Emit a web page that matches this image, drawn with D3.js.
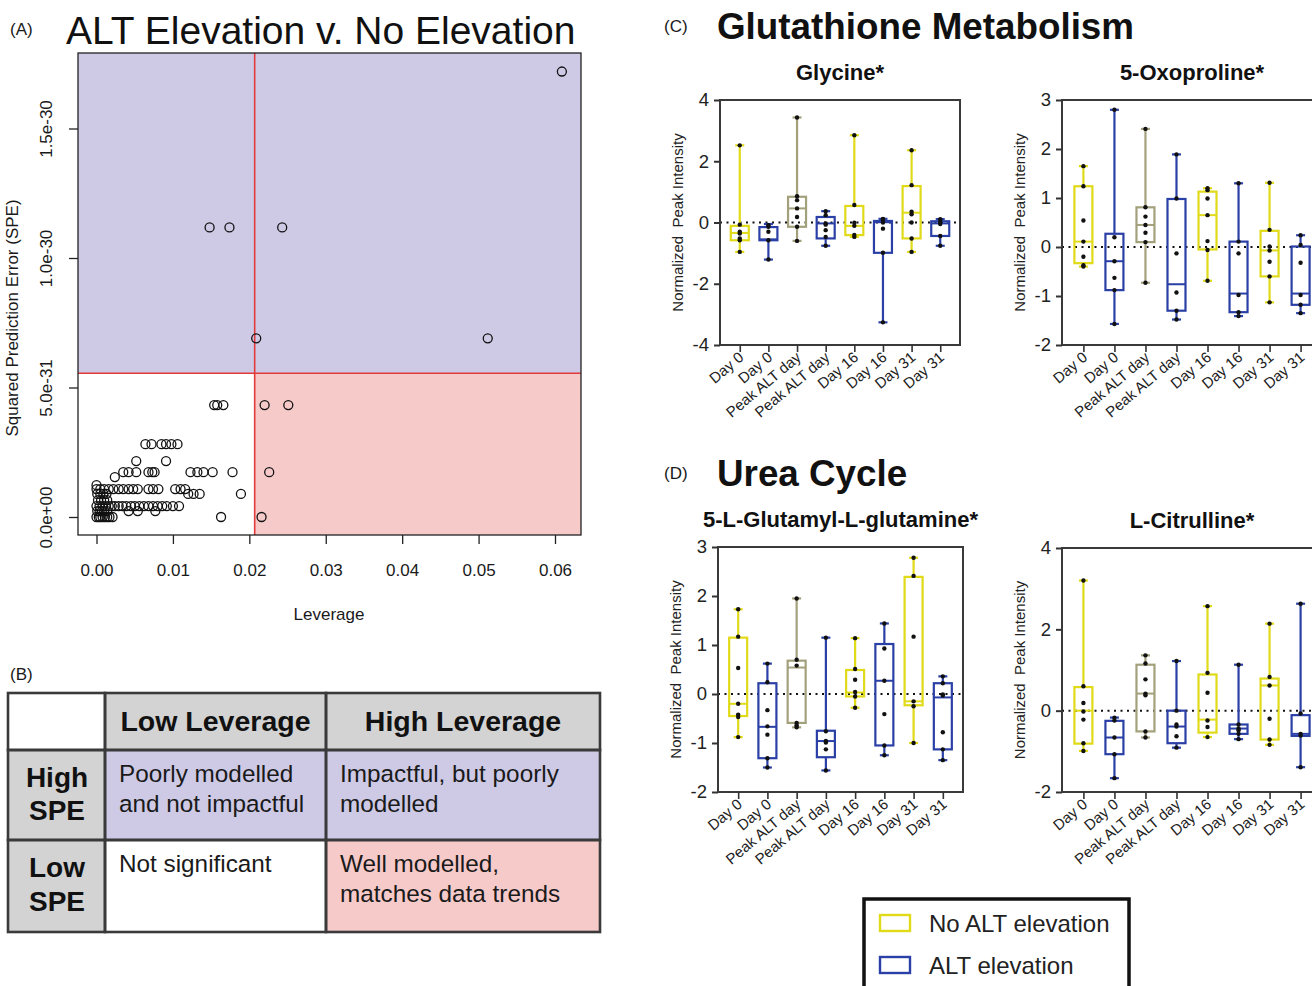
<!DOCTYPE html>
<html><head><meta charset="utf-8">
<script src="https://cdn.jsdelivr.net/npm/d3@7"></script>
<style>
html,body{margin:0;padding:0;background:#fff;}
svg{display:block;font-family:"Liberation Sans",Arial,Helvetica,sans-serif;}
</style></head><body>
<svg id="chart" width="1312" height="986"></svg>
<script>
// ---------------- Panel A data ----------------
const leverage = [
  0,.0003,.0005,.0008,.0011,.0014,.0017,.0021,.0163,.0216,
  .0001,.0004,.0007,.001,.0014,.0042,.0054,.0077,
  0,.0004,.0008,.0012,.0016,.0020,.0024,.0029,.0034,.0039,.0045,.0050,.0056,.0062,.0068,.0074,.0080,.0086,.0092,.0100,.0108,
  .0002,.0006,.0010,.0014,
  .0001,.0005,.0009,.0013,.0120,.0127,.0135,.0189,
  0,.0005,.0010,.0016,.0022,.0029,.0035,.0042,.0048,.0054,.0068,.0074,.0081,.0103,.0110,.0116,
  0,
  .0024,
  .0035,.0042,.0052,.0068,.0073,.0076,.0123,.0132,.0140,.0152,.0178,.0226,
  .0052,.0091,
  .0064,.0072,.0085,.0091,.0098,.0106,
  .0154,.0158,.0166,.0220,.0251,
  .0209,.0512,
  .0148,.0174,.0243,
  .0609
];
// squared prediction error, in units of 1e-31
const spe = [
  0,0,0,0,0,0,0,0,0,0,
  .23,.23,.23,.23,.23,.23,.23,.23,
  .42,.42,.42,.42,.42,.42,.42,.42,.42,.42,.42,.42,.42,.42,.42,.42,.42,.42,.42,.42,.42,
  .65,.65,.65,.65,
  .89,.89,.89,.89,.89,.89,.89,.89,
  1.08,1.08,1.08,1.08,1.08,1.08,1.08,1.08,1.08,1.08,1.08,1.08,1.08,1.08,1.08,1.08,
  1.23,
  1.54,
  1.73,1.73,1.73,1.73,1.73,1.73,1.73,1.73,1.73,1.73,1.73,1.73,
  2.16,2.16,
  2.81,2.81,2.81,2.81,2.81,2.81,
  4.32,4.32,4.32,4.32,4.32,
  6.9,6.9,
  11.18,11.18,11.18,
  17.2
];
const levTicks = [0,0.01,0.02,0.03,0.04,0.05,0.06];
const speTicks = [0,5,10,15];
const speTickLabels = ["0.0e+00","5.0e-31","1.0e-30","1.5e-30"];
const levCut = 0.0207;
const speCut = 5.55;

// ---------------- Panel B data ----------------
const tableColHeaders = ["", "Low Leverage", "High Leverage"];
const tableRowHeaders = [["High","SPE"],["Low","SPE"]];
const tableCells = [
  [["Poorly modelled","and not impactful"],["Impactful, but poorly","modelled"]],
  [["Not significant"],["Well modelled,","matches data trends"]]
];

// ---------------- Box plot data ----------------
const groupLabels = ["Day 0","Day 0","Peak ALT day","Peak ALT day","Day 16","Day 16","Day 31","Day 31"];
const groupKind = ["no","alt","peakno","alt","no","alt","no","alt"];

const glycineMin = [-0.96,-1.21,-0.60,-0.76,-0.47,-3.26,-0.96,-0.76];
const glycineQ1  = [-0.58,-0.58,-0.14,-0.52,-0.41,-0.99,-0.52,-0.44];
const glycineMed = [-0.34,-0.55, 0.46,-0.03,-0.11, 0.01, 0.32,-0.03];
const glycineQ3  = [-0.11,-0.15, 0.84, 0.18, 0.54, 0.05, 1.19, 0.04];
const glycineMax = [ 2.52,-0.05, 3.43, 0.37, 2.85, 0.12, 2.36, 0.11];
const glycinePts = [
  [2.52,-0.07,-0.3,-0.36,-0.52,-0.58,-0.96],
  [-0.09,-0.14,-0.3,-0.58,-1.21],
  [3.43,0.86,0.73,0.46,0.18,-0.14,-0.6],
  [0.37,0.24,-0.03,-0.07,-0.25,-0.47,-0.76],
  [2.85,0.57,-0.01,-0.11,-0.41,-0.47],
  [0.12,0.1,0.08,0,-0.2,-0.99,-3.26],
  [2.36,1.22,0.35,0.27,0,-0.52,-0.96],
  [0.11,0.08,0,-0.05,-0.44,-0.76]
];

const oxoMin = [-0.40,-1.57,-0.73,-1.48,-0.69,-1.41,-1.13,-1.35];
const oxoQ1  = [-0.33,-0.88, 0.10,-1.30,-0.05,-1.33,-0.60,-1.18];
const oxoMed = [ 0.11,-0.29, 0.45,-0.76, 0.65,-0.95,-0.07,-0.95];
const oxoQ3  = [ 1.24, 0.27, 0.81, 0.98, 1.13, 0.11, 0.33, 0.01];
const oxoMax = [ 1.65, 2.80, 2.41, 1.89, 1.20, 1.30, 1.31, 0.24];
const oxoPts = [
  [1.65,1.24,0.54,0.11,-0.2,-0.37,-0.4],
  [2.8,0.2,-0.29,-0.63,-0.88,-1.57],
  [2.41,0.81,0.62,0.45,0.29,0.1,-0.73],
  [1.89,0.99,-0.13,-0.93,-1.3,-1.48],
  [1.2,1.16,0.99,0.65,0.12,-0.06,-0.69],
  [1.3,0.11,-0.13,-0.98,-1.33,-1.41],
  [1.31,0.35,0.01,-0.07,-0.3,-0.6,-1.13],
  [0.24,0.04,-0.32,-0.98,-1.18,-1.35]
];

const glutMin = [-0.88,-1.50,-0.68,-1.56,-0.28,-1.25,-1.00,-1.35];
const glutQ1  = [-0.45,-1.31,-0.59,-1.29,-0.05,-1.05,-0.23,-1.13];
const glutMed = [-0.20,-0.67, 0.54,-0.96, 0.03, 0.27,-0.15,-0.07];
const glutQ3  = [ 1.15, 0.22, 0.68,-0.75, 0.49, 1.02, 2.39, 0.22];
const glutMax = [ 1.73, 0.62, 1.95, 1.15, 1.14, 1.44, 2.78, 0.36];
const glutPts = [
  [1.73,1.17,0.53,-0.2,-0.42,-0.47,-0.88],
  [0.62,0.24,-0.33,-0.66,-0.83,-1.31,-1.5],
  [1.95,0.7,0.58,-0.59,-0.64,-0.68],
  [1.15,-0.76,-0.96,-0.99,-1.13,-1.56],
  [1.14,0.51,0.29,0.04,-0.05,-0.28],
  [1.44,0.93,0.27,-0.41,-1.05,-1.25],
  [2.78,2.41,1.17,-0.15,-0.25,-1.0],
  [0.36,0.22,-0.01,-0.03,-0.78,-1.13,-1.35]
];

const citMin = [-0.99,-1.66,-0.66,-0.91,-0.65,-0.70,-0.84,-1.39];
const citQ1  = [-0.81,-1.07,-0.51,-0.80,-0.54,-0.57,-0.71,-0.62];
const citMed = [ 0.00,-0.66, 0.42,-0.39,-0.22,-0.44, 0.62,-0.57];
const citQ3  = [ 0.58,-0.25, 1.13, 0.00, 0.89,-0.34, 0.79,-0.11];
const citMax = [ 3.20,-0.17, 1.36, 1.22, 2.57, 1.13, 2.14, 2.63];
const citPts = [
  [3.2,0.6,0.19,-0.02,-0.22,-0.8,-0.99],
  [-0.17,-0.24,-0.66,-1.07,-1.66],
  [1.36,1.16,0.77,0.42,0.38,-0.51,-0.66],
  [1.22,0,-0.34,-0.39,-0.63,-0.91],
  [2.57,0.93,0.44,-0.24,-0.4,-0.65],
  [1.13,-0.34,-0.44,-0.48,-0.57,-0.7],
  [2.14,0.83,0.62,-0.2,-0.71,-0.84],
  [2.63,-0.07,-0.57,-0.61,-1.39]
];

const legendLabels = ["No ALT elevation","ALT elevation"];

// ---------------- styles ----------------
const PURPLE = "#cecae6", PINK = "#f7caca", GRAY = "#d3d3d3";
const kindColor = {no:"#e0da18", alt:"#2b40a6", peakno:"#a3a07c"};
const TXT = "#1a1a1a";

const svg = d3.select("#chart");

// ================= Panel A =================
const A = {left:78, right:581, top:53, bottom:535};
const xA = d3.scaleLinear().domain([0,0.06]).range([96.5,555]);
const yA = d3.scaleLinear().domain([0,15]).range([517,128.5]);
const gA = svg.append("g");

svg.append("text").attr("x",10).attr("y",35).attr("font-size",17).attr("fill",TXT).text("(A)");
svg.append("text").attr("x",66).attr("y",44).attr("font-size",39).attr("fill","#111").text("ALT Elevation v. No Elevation");

gA.append("rect").attr("x",A.left).attr("y",A.top).attr("width",A.right-A.left)
  .attr("height",yA(speCut)-A.top).attr("fill",PURPLE);
gA.append("rect").attr("x",xA(levCut)).attr("y",yA(speCut)).attr("width",A.right-xA(levCut))
  .attr("height",A.bottom-yA(speCut)).attr("fill",PINK);
gA.append("line").attr("x1",xA(levCut)).attr("x2",xA(levCut)).attr("y1",A.top).attr("y2",A.bottom)
  .attr("stroke","#e23a3a").attr("stroke-width",1.6);
gA.append("line").attr("x1",A.left).attr("x2",A.right).attr("y1",yA(speCut)).attr("y2",yA(speCut))
  .attr("stroke","#e23a3a").attr("stroke-width",1.6);

gA.append("g").selectAll("circle").data(d3.range(leverage.length)).join("circle")
  .attr("cx",i=>xA(leverage[i])).attr("cy",i=>yA(spe[i])).attr("r",4.5)
  .attr("fill","none").attr("stroke","#111").attr("stroke-width",1.3);

gA.append("rect").attr("x",A.left).attr("y",A.top).attr("width",A.right-A.left).attr("height",A.bottom-A.top)
  .attr("fill","none").attr("stroke","#222").attr("stroke-width",1.3);

const axXA = d3.axisBottom(xA).tickValues(levTicks).tickFormat(d3.format(".2f")).tickSize(9).tickPadding(20);
gA.append("g").attr("transform",`translate(0,${A.bottom})`).call(axXA)
  .call(g=>g.select(".domain").remove())
  .call(g=>g.selectAll("text").attr("font-size",17).attr("fill",TXT).attr("font-family",null))
  .call(g=>g.selectAll("line").attr("stroke","#222").attr("stroke-width",1.3));

const axYA = d3.axisLeft(yA).tickValues(speTicks).tickFormat((d,i)=>speTickLabels[i]).tickSize(9);
gA.append("g").attr("transform",`translate(${A.left},0)`).call(axYA)
  .call(g=>g.select(".domain").remove())
  .call(g=>g.selectAll("line").attr("stroke","#222").attr("stroke-width",1.3))
  .call(g=>g.selectAll("text").attr("font-size",17).attr("fill",TXT).attr("font-family",null)
     .attr("x",null).attr("dy","0.35em").attr("text-anchor","middle")
     .attr("transform","translate(-32,0) rotate(-90)"));

svg.append("text").attr("transform","translate(18,318) rotate(-90)").attr("text-anchor","middle")
  .attr("font-size",17).attr("fill",TXT).text("Squared Prediction Error (SPE)");
svg.append("text").attr("x",329).attr("y",620).attr("text-anchor","middle")
  .attr("font-size",17).attr("fill",TXT).text("Leverage");

// ================= Panel B =================
svg.append("text").attr("x",10).attr("y",680).attr("font-size",17).attr("fill",TXT).text("(B)");
const colX = [8,105,326,600], rowY = [693,750,840,932];
const gB = svg.append("g");
function cellFill(r,c){
  if (r===0 && c===0) return "#fff";
  if (r===0 || c===0) return GRAY;
  if (r===1) return PURPLE;
  if (r===2 && c===2) return PINK;
  return "#fff";
}
for (let r=0;r<3;r++) for (let c=0;c<3;c++){
  gB.append("rect").attr("x",colX[c]).attr("y",rowY[r]).attr("width",colX[c+1]-colX[c])
    .attr("height",rowY[r+1]-rowY[r]).attr("fill",cellFill(r,c));
}
for (let r=0;r<3;r++) for (let c=0;c<3;c++){
  gB.append("rect").attr("x",colX[c]).attr("y",rowY[r]).attr("width",colX[c+1]-colX[c])
    .attr("height",rowY[r+1]-rowY[r]).attr("fill","none").attr("stroke","#3a3a3a").attr("stroke-width",2.6);
}
tableColHeaders.forEach((t,c)=>{
  if(!t) return;
  gB.append("text").attr("x",(colX[c]+colX[c+1])/2).attr("y",731).attr("text-anchor","middle")
    .attr("font-size",28.5).attr("font-weight","bold").attr("fill","#111").text(t);
});
tableRowHeaders.forEach((lines,r)=>{
  const cy = r===0 ? [787,820] : [877,911];
  lines.forEach((t,k)=>gB.append("text").attr("x",57).attr("y",cy[k]).attr("text-anchor","middle")
    .attr("font-size",28).attr("font-weight","bold").attr("fill","#111").text(t));
});
tableCells.forEach((row,r)=>row.forEach((lines,c)=>{
  const x0 = colX[c+1]+14;
  const y0 = rowY[r+1]+32;
  lines.forEach((t,k)=>gB.append("text").attr("x",x0).attr("y",y0+k*29.5)
    .attr("font-size",24.3).attr("fill","#1a1a1a").text(t));
}));

// ================= Panels C & D =================
svg.append("text").attr("x",664).attr("y",32).attr("font-size",17).attr("fill",TXT).text("(C)");
svg.append("text").attr("x",717).attr("y",39).attr("font-size",36.8).attr("font-weight","bold").attr("fill","#111").text("Glutathione Metabolism");
svg.append("text").attr("x",664).attr("y",479).attr("font-size",17).attr("fill",TXT).text("(D)");
svg.append("text").attr("x",717).attr("y",486).attr("font-size",36.8).attr("font-weight","bold").attr("fill","#111").text("Urea Cycle");

function boxPanel(p){
  const g = svg.append("g");
  const y = d3.scaleLinear().domain(p.yDomain).range([p.bottom,p.top]);
  const x = d3.scalePoint().domain(d3.range(groupLabels.length)).range([p.left,p.right]).padding(0.69);
  const bw = 18, cap = 9;
  // zero line
  g.append("line").attr("x1",p.left).attr("x2",p.right).attr("y1",y(0)).attr("y2",y(0))
    .attr("stroke","#111").attr("stroke-width",2).attr("stroke-dasharray","2,4.5");
  const idx = d3.range(groupLabels.length);
  const col = i=>kindColor[groupKind[i]];
  const boxes = g.selectAll("g.box").data(idx).join("g").attr("class","box");
  boxes.append("line").attr("x1",i=>x(i)).attr("x2",i=>x(i)).attr("y1",i=>y(p.max[i])).attr("y2",i=>y(p.q3[i]))
    .attr("stroke",col).attr("stroke-width",2.2);
  boxes.append("line").attr("x1",i=>x(i)).attr("x2",i=>x(i)).attr("y1",i=>y(p.q1[i])).attr("y2",i=>y(p.min[i]))
    .attr("stroke",col).attr("stroke-width",2.2);
  boxes.append("line").attr("x1",i=>x(i)-cap/2).attr("x2",i=>x(i)+cap/2).attr("y1",i=>y(p.max[i])).attr("y2",i=>y(p.max[i]))
    .attr("stroke",col).attr("stroke-width",2.2);
  boxes.append("line").attr("x1",i=>x(i)-cap/2).attr("x2",i=>x(i)+cap/2).attr("y1",i=>y(p.min[i])).attr("y2",i=>y(p.min[i]))
    .attr("stroke",col).attr("stroke-width",2.2);
  boxes.append("rect").attr("x",i=>x(i)-bw/2).attr("width",bw).attr("y",i=>y(p.q3[i]))
    .attr("height",i=>Math.max(1,y(p.q1[i])-y(p.q3[i]))).attr("fill","none")
    .attr("stroke",col).attr("stroke-width",2.2);
  boxes.append("line").attr("x1",i=>x(i)-bw/2).attr("x2",i=>x(i)+bw/2).attr("y1",i=>y(p.med[i])).attr("y2",i=>y(p.med[i]))
    .attr("stroke",col).attr("stroke-width",2);
  boxes.each(function(i){
    d3.select(this).selectAll("circle").data(p.pts[i]).join("circle")
      .attr("cx",x(i)).attr("cy",d=>y(d)).attr("r",2.2).attr("fill","#111");
  });
  // frame
  g.append("rect").attr("x",p.left).attr("y",p.top).attr("width",p.right-p.left).attr("height",p.bottom-p.top)
    .attr("fill","none").attr("stroke","#3a3a3a").attr("stroke-width",2);
  // y axis
  const ay = d3.axisLeft(y).tickValues(p.ticks).tickSize(6).tickPadding(5).tickFormat(d=>String(d));
  g.append("g").attr("transform",`translate(${p.left},0)`).call(ay)
    .call(s=>s.select(".domain").remove())
    .call(s=>s.selectAll("line").attr("stroke","#333").attr("stroke-width",2))
    .call(s=>s.selectAll("text").attr("font-size",18.5).attr("fill","#222").attr("font-family",null));
  // x ticks
  const ax = d3.axisBottom(x).tickSize(7).tickFormat(()=> "");
  g.append("g").attr("transform",`translate(0,${p.bottom})`).call(ax)
    .call(s=>s.select(".domain").remove())
    .call(s=>s.selectAll("line").attr("stroke","#333").attr("stroke-width",1.6));
  g.selectAll("text.xl").data(idx).join("text").attr("class","xl")
    .attr("transform",i=>`translate(${x(i)+5},${p.bottom+14}) rotate(-40)`)
    .attr("text-anchor","end").attr("font-size",15).attr("fill","#222").text(i=>groupLabels[i]);
  // title
  g.append("text").attr("x",(p.left+p.right)/2).attr("y",p.top-20).attr("text-anchor","middle")
    .attr("font-size",22).attr("font-weight","bold").attr("fill","#111").text(p.title);
  // y title
  g.append("text").attr("transform",`translate(${p.left-37},${(p.top+p.bottom)/2}) rotate(-90)`)
    .attr("text-anchor","middle").attr("font-size",15).attr("fill","#222")
    .attr("xml:space","preserve").text("Normalized  Peak Intensity");
}

boxPanel({left:720,right:960,top:100,bottom:345,yDomain:[-4,4],ticks:[-4,-2,0,2,4],title:"Glycine*",
  min:glycineMin,q1:glycineQ1,med:glycineMed,q3:glycineQ3,max:glycineMax,pts:glycinePts});
boxPanel({left:1062,right:1322,top:100,bottom:345,yDomain:[-2,3],ticks:[-2,-1,0,1,2,3],title:"5-Oxoproline*",
  min:oxoMin,q1:oxoQ1,med:oxoMed,q3:oxoQ3,max:oxoMax,pts:oxoPts});
boxPanel({left:718,right:963,top:547,bottom:792,yDomain:[-2,3],ticks:[-2,-1,0,1,2,3],title:"5-L-Glutamyl-L-glutamine*",
  min:glutMin,q1:glutQ1,med:glutMed,q3:glutQ3,max:glutMax,pts:glutPts});
boxPanel({left:1062,right:1322,top:548,bottom:792,yDomain:[-2,4],ticks:[-2,0,2,4],title:"L-Citrulline*",
  min:citMin,q1:citQ1,med:citMed,q3:citQ3,max:citMax,pts:citPts});

// ================= Legend =================
const gL = svg.append("g");
gL.append("rect").attr("x",864).attr("y",899).attr("width",265).attr("height",110)
  .attr("fill","#fff").attr("stroke","#111").attr("stroke-width",3.5);
const legColors = [kindColor.no, kindColor.alt];
legendLabels.forEach((t,k)=>{
  const yy = 923 + k*42;
  gL.append("rect").attr("x",880).attr("y",yy-8).attr("width",30).attr("height",16)
    .attr("fill","none").attr("stroke",legColors[k]).attr("stroke-width",2.4);
  gL.append("text").attr("x",929).attr("y",yy+8.5).attr("font-size",24).attr("fill","#222").text(t);
});
</script></body></html>
